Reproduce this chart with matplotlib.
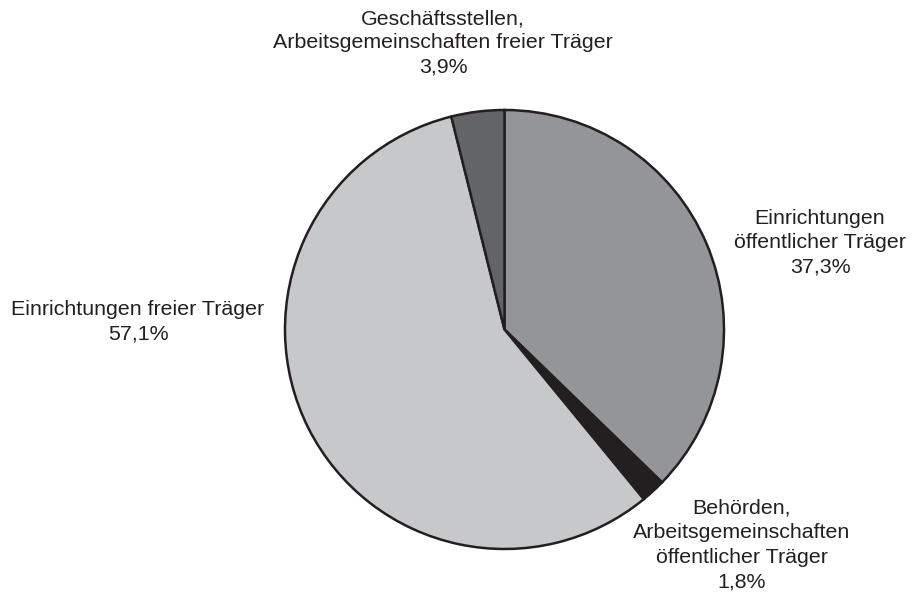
import matplotlib
matplotlib.use("Agg")
import matplotlib.pyplot as plt

categories = ["Einrichtungen\nöffentlicher Träger",
              "Behörden,\nArbeitsgemeinschaften\nöffentlicher Träger",
              "Einrichtungen freier Träger",
              "Geschäftsstellen,\nArbeitsgemeinschaften freier Träger"]
values = [37.3, 1.8, 57.1, 3.9]
value_labels = ["37,3%", "1,8%", "57,1%", "3,9%"]
colors = ["#939598", "#231f20", "#c7c8ca", "#636466"]

plt.rcParams['font.family'] = ['Liberation Sans', 'DejaVu Sans']

W, H = 914, 595
fig = plt.figure(figsize=(W / 100, H / 100), dpi=100)
ax = fig.add_axes([0, 0, 1, 1])

cx, cy, r = 504.5, H - 329.5, 219.5
wedges, _ = ax.pie(values, colors=colors, startangle=90, counterclock=False,
                   center=(cx, cy), radius=r, frame=True,
                   wedgeprops=dict(edgecolor='#231f20', linewidth=1.8))
ax.set_xlim(0, W)
ax.set_ylim(0, H)
ax.set_aspect('equal')
ax.axis('off')

label_pos = [(820, H - 243), (742, H - 545), (138, H - 322), (443, H - 43)]
for cat, vl, (x, y) in zip(categories, value_labels, label_pos):
    ax.text(x, y, f"{cat}\n{vl}", ha='center', va='center', fontsize=15.4,
            color='#231f20', linespacing=1.36)

fig.savefig("out.png", dpi=100)
